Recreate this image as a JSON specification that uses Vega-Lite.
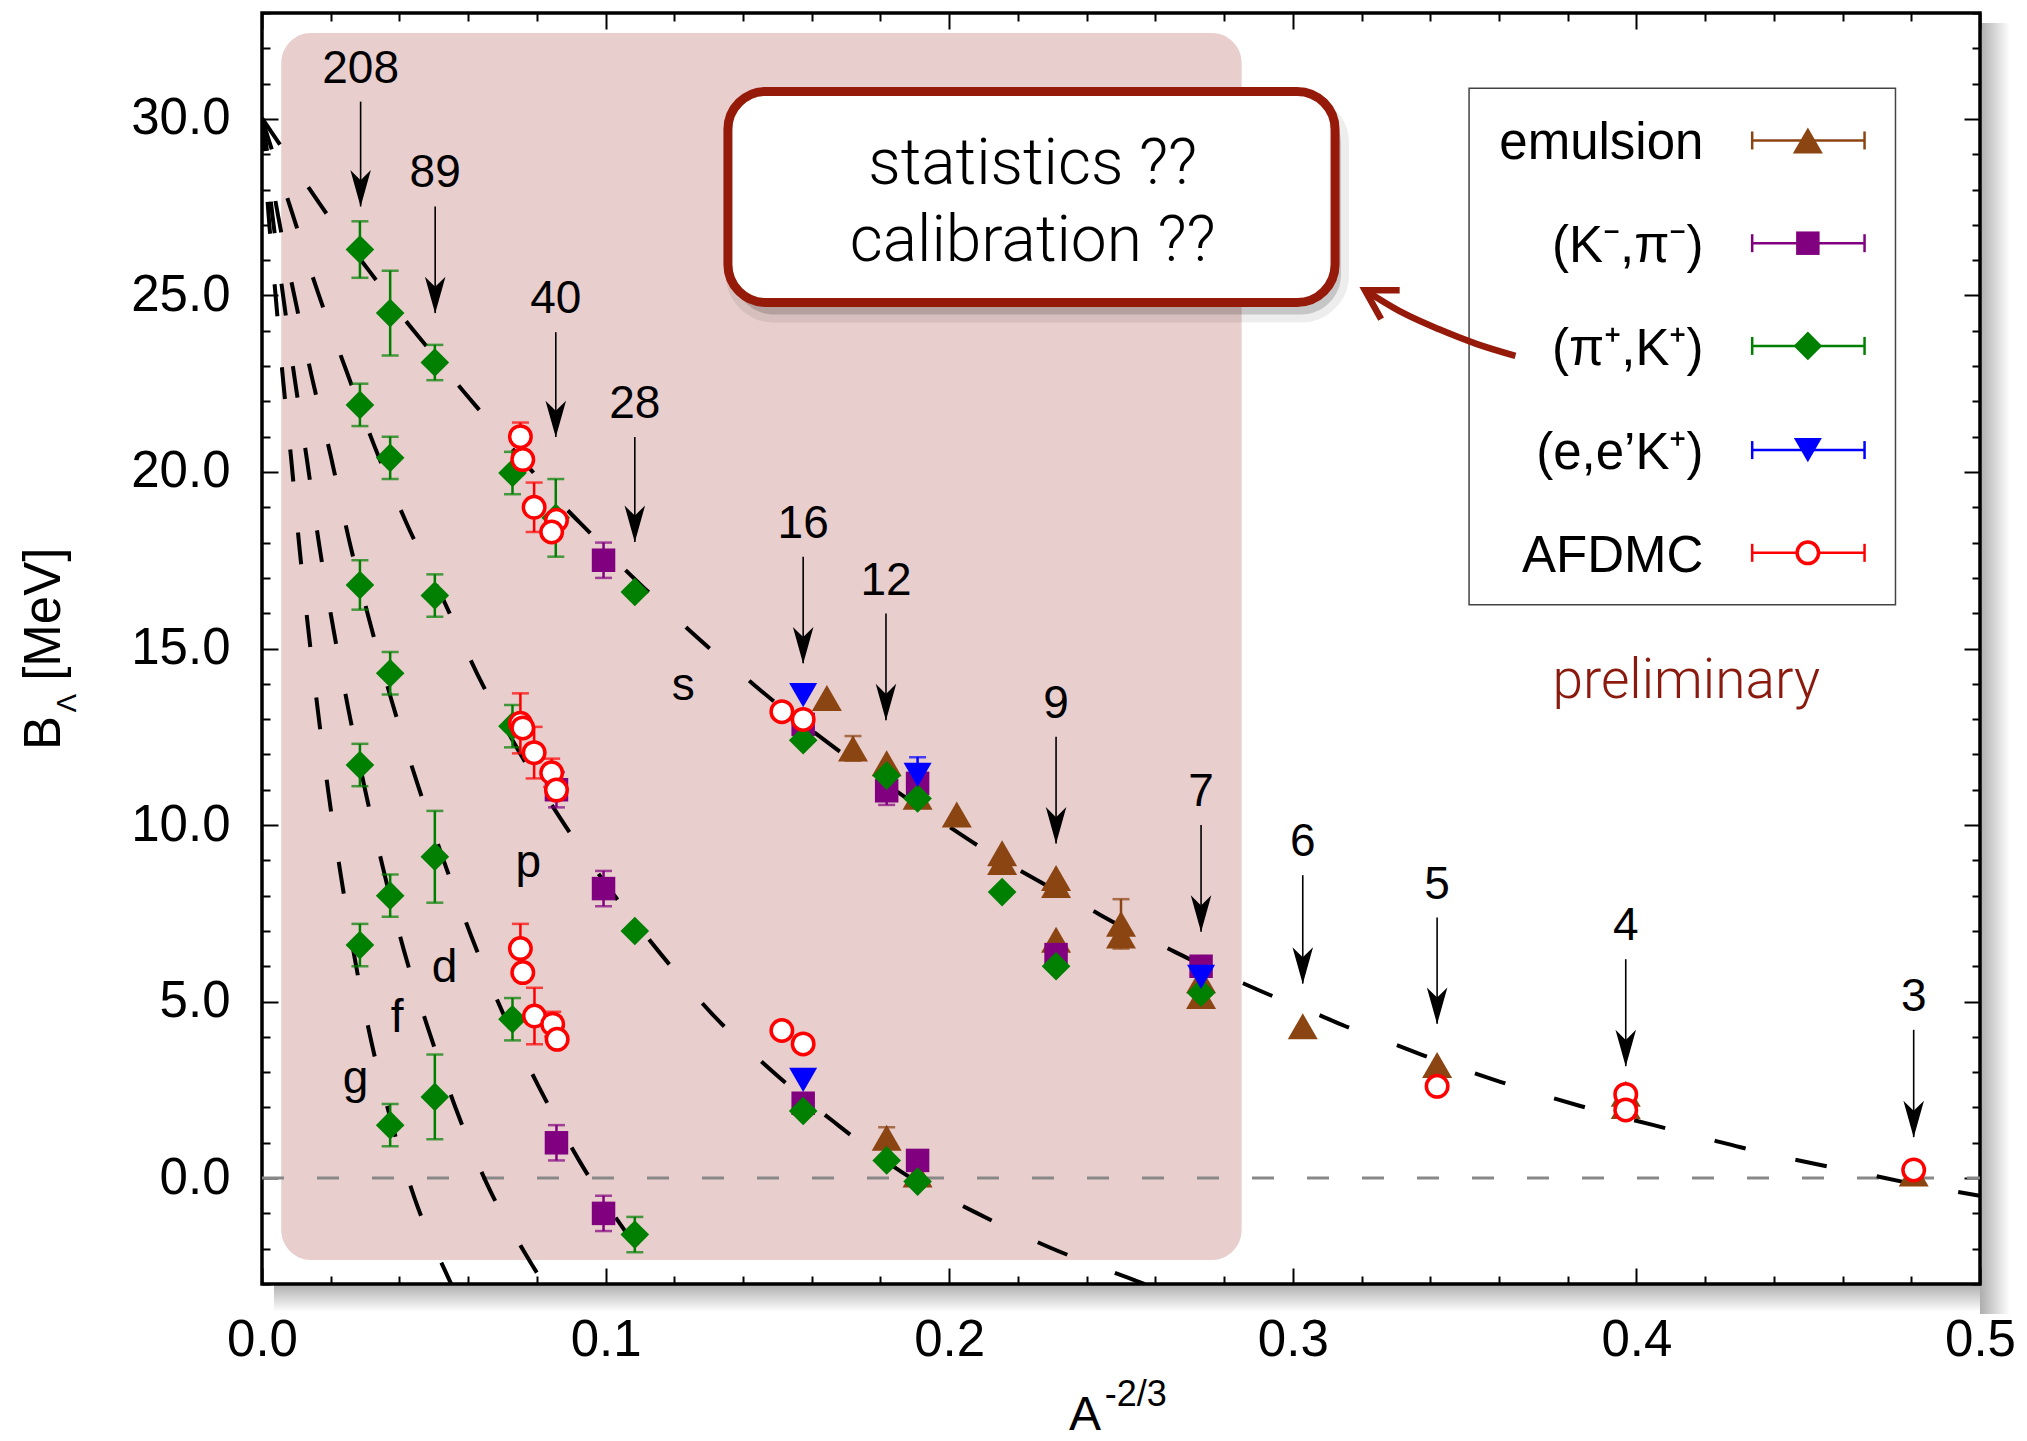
{
  "$schema": "https://vega.github.io/schema/vega-lite/v6.json",
  "width": 1718,
  "height": 1271,
  "autosize": {"type": "none"},
  "padding": {"left": 262, "top": 13, "right": 47, "bottom": 157},
  "background": "white",
  "config": {
    "view": {"stroke": "#000", "strokeWidth": 3.5, "fill": "white"},
    "text": {"font": "Liberation Sans"}
  },
  "resolve": {"axis": {"x": "independent", "y": "independent"}},
  "datasets": {
    "pts": [
      {"series": "emulsion", "x": 0.1644, "y": 13.6, "err": 0},
      {"series": "emulsion", "x": 0.172, "y": 12.17, "err": 0.35},
      {"series": "emulsion", "x": 0.1818, "y": 11.75, "err": 0},
      {"series": "emulsion", "x": 0.1818, "y": 1.14, "err": 0.3},
      {"series": "emulsion", "x": 0.1908, "y": 10.8, "err": 0},
      {"series": "emulsion", "x": 0.1908, "y": 0.1, "err": 0},
      {"series": "emulsion", "x": 0.2022, "y": 10.3, "err": 0},
      {"series": "emulsion", "x": 0.2154, "y": 9.2, "err": 0},
      {"series": "emulsion", "x": 0.2154, "y": 8.95, "err": 0},
      {"series": "emulsion", "x": 0.2311, "y": 8.5, "err": 0},
      {"series": "emulsion", "x": 0.2311, "y": 8.3, "err": 0},
      {"series": "emulsion", "x": 0.2311, "y": 6.75, "err": 0},
      {"series": "emulsion", "x": 0.25, "y": 7.2, "err": 0.7},
      {"series": "emulsion", "x": 0.25, "y": 6.87, "err": 0},
      {"series": "emulsion", "x": 0.2733, "y": 5.6, "err": 0},
      {"series": "emulsion", "x": 0.2733, "y": 5.16, "err": 0},
      {"series": "emulsion", "x": 0.3029, "y": 4.3, "err": 0},
      {"series": "emulsion", "x": 0.342, "y": 3.2, "err": 0},
      {"series": "emulsion", "x": 0.3969, "y": 2.39, "err": 0},
      {"series": "emulsion", "x": 0.3969, "y": 2.04, "err": 0},
      {"series": "emulsion", "x": 0.4807, "y": 0.13, "err": 0},
      {"series": "Kpi", "x": 0.0994, "y": 17.5, "err": 0.5},
      {"series": "Kpi", "x": 0.0994, "y": 8.2, "err": 0.5},
      {"series": "Kpi", "x": 0.0994, "y": -1.0, "err": 0.5},
      {"series": "Kpi", "x": 0.0857, "y": 11.0, "err": 0.5},
      {"series": "Kpi", "x": 0.0857, "y": 1.0, "err": 0.5},
      {"series": "Kpi", "x": 0.1575, "y": 12.85, "err": 0},
      {"series": "Kpi", "x": 0.1575, "y": 2.12, "err": 0},
      {"series": "Kpi", "x": 0.1818, "y": 10.97, "err": 0.4},
      {"series": "Kpi", "x": 0.1908, "y": 11.18, "err": 0},
      {"series": "Kpi", "x": 0.1908, "y": 0.5, "err": 0},
      {"series": "Kpi", "x": 0.2311, "y": 6.33, "err": 0},
      {"series": "Kpi", "x": 0.2733, "y": 6.0, "err": 0.2},
      {"series": "piK", "x": 0.0285, "y": 26.3, "err": 0.8},
      {"series": "piK", "x": 0.0285, "y": 21.9, "err": 0.6},
      {"series": "piK", "x": 0.0285, "y": 16.8, "err": 0.7},
      {"series": "piK", "x": 0.0285, "y": 11.7, "err": 0.6},
      {"series": "piK", "x": 0.0285, "y": 6.6, "err": 0.6},
      {"series": "piK", "x": 0.0373, "y": 24.5, "err": 1.2},
      {"series": "piK", "x": 0.0373, "y": 20.4, "err": 0.6},
      {"series": "piK", "x": 0.0373, "y": 14.3, "err": 0.6},
      {"series": "piK", "x": 0.0373, "y": 8.0, "err": 0.6},
      {"series": "piK", "x": 0.0373, "y": 1.5, "err": 0.6},
      {"series": "piK", "x": 0.0503, "y": 23.1, "err": 0.5},
      {"series": "piK", "x": 0.0503, "y": 16.5, "err": 0.6},
      {"series": "piK", "x": 0.0503, "y": 9.1, "err": 1.3},
      {"series": "piK", "x": 0.0503, "y": 2.3, "err": 1.2},
      {"series": "piK", "x": 0.0729, "y": 19.97, "err": 0.6},
      {"series": "piK", "x": 0.0729, "y": 12.8, "err": 0.6},
      {"series": "piK", "x": 0.0729, "y": 4.5, "err": 0.6},
      {"series": "piK", "x": 0.0855, "y": 18.7, "err": 1.1},
      {"series": "piK", "x": 0.1085, "y": 16.6, "err": 0},
      {"series": "piK", "x": 0.1085, "y": 7.0, "err": 0},
      {"series": "piK", "x": 0.1085, "y": -1.6, "err": 0.5},
      {"series": "piK", "x": 0.1575, "y": 12.4, "err": 0},
      {"series": "piK", "x": 0.1575, "y": 1.9, "err": 0},
      {"series": "piK", "x": 0.1818, "y": 11.4, "err": 0},
      {"series": "piK", "x": 0.1818, "y": 0.5, "err": 0},
      {"series": "piK", "x": 0.1908, "y": 10.75, "err": 0},
      {"series": "piK", "x": 0.1908, "y": -0.1, "err": 0},
      {"series": "piK", "x": 0.2154, "y": 8.1, "err": 0},
      {"series": "piK", "x": 0.2311, "y": 6.0, "err": 0},
      {"series": "piK", "x": 0.2733, "y": 5.25, "err": 0},
      {"series": "eeK", "x": 0.1575, "y": 13.68, "err": 0},
      {"series": "eeK", "x": 0.1575, "y": 2.78, "err": 0},
      {"series": "eeK", "x": 0.1908, "y": 11.42, "err": 0.5},
      {"series": "eeK", "x": 0.2733, "y": 5.7, "err": 0},
      {"series": "AFDMC", "x": 0.0752, "y": 21.0, "err": 0.4},
      {"series": "AFDMC", "x": 0.0759, "y": 20.35, "err": 0},
      {"series": "AFDMC", "x": 0.0792, "y": 19.0, "err": 0.7},
      {"series": "AFDMC", "x": 0.0857, "y": 18.63, "err": 0},
      {"series": "AFDMC", "x": 0.0843, "y": 18.3, "err": 0},
      {"series": "AFDMC", "x": 0.0752, "y": 12.88, "err": 0.85},
      {"series": "AFDMC", "x": 0.0759, "y": 12.75, "err": 0},
      {"series": "AFDMC", "x": 0.0792, "y": 12.05, "err": 0.73},
      {"series": "AFDMC", "x": 0.0843, "y": 11.48, "err": 0.4},
      {"series": "AFDMC", "x": 0.0857, "y": 10.99, "err": 0},
      {"series": "AFDMC", "x": 0.0752, "y": 6.5, "err": 0.7},
      {"series": "AFDMC", "x": 0.0759, "y": 5.82, "err": 0},
      {"series": "AFDMC", "x": 0.0793, "y": 4.59, "err": 0.8},
      {"series": "AFDMC", "x": 0.0846, "y": 4.36, "err": 0.35},
      {"series": "AFDMC", "x": 0.0859, "y": 3.93, "err": 0},
      {"series": "AFDMC", "x": 0.1513, "y": 13.21, "err": 0},
      {"series": "AFDMC", "x": 0.1575, "y": 12.99, "err": 0},
      {"series": "AFDMC", "x": 0.1513, "y": 4.18, "err": 0},
      {"series": "AFDMC", "x": 0.1575, "y": 3.8, "err": 0},
      {"series": "AFDMC", "x": 0.342, "y": 2.6, "err": 0},
      {"series": "AFDMC", "x": 0.3969, "y": 2.37, "err": 0},
      {"series": "AFDMC", "x": 0.3969, "y": 1.93, "err": 0},
      {"series": "AFDMC", "x": 0.4807, "y": 0.23, "err": 0}
    ],
    "curves": [
      {"shell": "s", "x": 0, "y": 30.02},
      {"shell": "s", "x": 0.0053, "y": 29.26},
      {"shell": "s", "x": 0.0136, "y": 28.05},
      {"shell": "s", "x": 0.0189, "y": 27.3},
      {"shell": "s", "x": 0.0296, "y": 25.9},
      {"shell": "s", "x": 0.0335, "y": 25.4},
      {"shell": "s", "x": 0.0417, "y": 24.3},
      {"shell": "s", "x": 0.048, "y": 23.55},
      {"shell": "s", "x": 0.0572, "y": 22.45},
      {"shell": "s", "x": 0.0633, "y": 21.75},
      {"shell": "s", "x": 0.077, "y": 20.2},
      {"shell": "s", "x": 0.0886, "y": 18.95},
      {"shell": "s", "x": 0.0957, "y": 18.25},
      {"shell": "s", "x": 0.1055, "y": 17.25},
      {"shell": "s", "x": 0.1119, "y": 16.65},
      {"shell": "s", "x": 0.1234, "y": 15.6},
      {"shell": "s", "x": 0.1303, "y": 15.0},
      {"shell": "s", "x": 0.1416, "y": 14.1},
      {"shell": "s", "x": 0.1484, "y": 13.55},
      {"shell": "s", "x": 0.1608, "y": 12.62},
      {"shell": "s", "x": 0.1679, "y": 12.1},
      {"shell": "s", "x": 0.184, "y": 11.0},
      {"shell": "s", "x": 0.1997, "y": 9.97},
      {"shell": "s", "x": 0.2075, "y": 9.47},
      {"shell": "s", "x": 0.2199, "y": 8.75},
      {"shell": "s", "x": 0.2277, "y": 8.32},
      {"shell": "s", "x": 0.2413, "y": 7.6},
      {"shell": "s", "x": 0.2484, "y": 7.22},
      {"shell": "s", "x": 0.2627, "y": 6.55},
      {"shell": "s", "x": 0.27, "y": 6.2},
      {"shell": "s", "x": 0.2848, "y": 5.55},
      {"shell": "s", "x": 0.293, "y": 5.2},
      {"shell": "s", "x": 0.3069, "y": 4.65},
      {"shell": "s", "x": 0.3153, "y": 4.3},
      {"shell": "s", "x": 0.3293, "y": 3.8},
      {"shell": "s", "x": 0.3374, "y": 3.5},
      {"shell": "s", "x": 0.3519, "y": 3.0},
      {"shell": "s", "x": 0.3606, "y": 2.72},
      {"shell": "s", "x": 0.3753, "y": 2.28},
      {"shell": "s", "x": 0.3834, "y": 2.05},
      {"shell": "s", "x": 0.3985, "y": 1.66},
      {"shell": "s", "x": 0.407, "y": 1.45},
      {"shell": "s", "x": 0.4212, "y": 1.1},
      {"shell": "s", "x": 0.43, "y": 0.88},
      {"shell": "s", "x": 0.4449, "y": 0.55},
      {"shell": "s", "x": 0.4536, "y": 0.37},
      {"shell": "s", "x": 0.4685, "y": 0.08},
      {"shell": "s", "x": 0.4773, "y": -0.1},
      {"shell": "s", "x": 0.4922, "y": -0.37},
      {"shell": "s", "x": 0.5, "y": -0.5},
      {"shell": "p", "x": 0, "y": 30.0},
      {"shell": "p", "x": 0.0088, "y": 27.33},
      {"shell": "p", "x": 0.0163, "y": 25.08},
      {"shell": "p", "x": 0.0245, "y": 22.88},
      {"shell": "p", "x": 0.0327, "y": 20.74},
      {"shell": "p", "x": 0.0422, "y": 18.52},
      {"shell": "p", "x": 0.0527, "y": 16.4},
      {"shell": "p", "x": 0.0627, "y": 14.27},
      {"shell": "p", "x": 0.0735, "y": 12.3},
      {"shell": "p", "x": 0.0859, "y": 10.33},
      {"shell": "p", "x": 0.1003, "y": 8.3},
      {"shell": "p", "x": 0.1152, "y": 6.45},
      {"shell": "p", "x": 0.1309, "y": 4.66},
      {"shell": "p", "x": 0.1481, "y": 3.06},
      {"shell": "p", "x": 0.1666, "y": 1.58},
      {"shell": "p", "x": 0.1862, "y": 0.17},
      {"shell": "p", "x": 0.2072, "y": -0.95},
      {"shell": "p", "x": 0.2291, "y": -1.96},
      {"shell": "p", "x": 0.2514, "y": -2.8},
      {"shell": "p", "x": 0.265, "y": -3.3},
      {"shell": "d", "x": 0, "y": 30.0},
      {"shell": "d", "x": 0.0046, "y": 27.3},
      {"shell": "d", "x": 0.0095, "y": 24.95},
      {"shell": "d", "x": 0.0146, "y": 22.65},
      {"shell": "d", "x": 0.0199, "y": 20.5},
      {"shell": "d", "x": 0.0254, "y": 18.05},
      {"shell": "d", "x": 0.0313, "y": 15.78},
      {"shell": "d", "x": 0.0378, "y": 13.5},
      {"shell": "d", "x": 0.0448, "y": 11.3},
      {"shell": "d", "x": 0.0526, "y": 9.07},
      {"shell": "d", "x": 0.0608, "y": 6.88},
      {"shell": "d", "x": 0.07, "y": 4.7},
      {"shell": "d", "x": 0.0805, "y": 2.6},
      {"shell": "d", "x": 0.0921, "y": 0.53},
      {"shell": "d", "x": 0.1035, "y": -1.2},
      {"shell": "d", "x": 0.1168, "y": -2.94},
      {"shell": "d", "x": 0.122, "y": -3.6},
      {"shell": "f", "x": 0, "y": 30.0},
      {"shell": "f", "x": 0.003, "y": 27.3},
      {"shell": "f", "x": 0.0062, "y": 24.95},
      {"shell": "f", "x": 0.0095, "y": 22.65},
      {"shell": "f", "x": 0.013, "y": 20.4},
      {"shell": "f", "x": 0.0167, "y": 17.9},
      {"shell": "f", "x": 0.0207, "y": 15.6},
      {"shell": "f", "x": 0.0251, "y": 13.3},
      {"shell": "f", "x": 0.03, "y": 11.0},
      {"shell": "f", "x": 0.0353, "y": 8.75},
      {"shell": "f", "x": 0.0413, "y": 6.45},
      {"shell": "f", "x": 0.0484, "y": 4.22},
      {"shell": "f", "x": 0.0563, "y": 2.0},
      {"shell": "f", "x": 0.0655, "y": -0.17},
      {"shell": "f", "x": 0.077, "y": -2.2},
      {"shell": "f", "x": 0.086, "y": -3.6},
      {"shell": "g", "x": 0, "y": 30.0},
      {"shell": "g", "x": 0.0019, "y": 27.3},
      {"shell": "g", "x": 0.004, "y": 24.95},
      {"shell": "g", "x": 0.0062, "y": 22.54},
      {"shell": "g", "x": 0.0085, "y": 20.36},
      {"shell": "g", "x": 0.0109, "y": 17.86},
      {"shell": "g", "x": 0.0135, "y": 15.52},
      {"shell": "g", "x": 0.0163, "y": 13.21},
      {"shell": "g", "x": 0.0194, "y": 10.87},
      {"shell": "g", "x": 0.0229, "y": 8.6},
      {"shell": "g", "x": 0.0269, "y": 6.27},
      {"shell": "g", "x": 0.0316, "y": 3.96},
      {"shell": "g", "x": 0.0373, "y": 1.72},
      {"shell": "g", "x": 0.0444, "y": -0.57},
      {"shell": "g", "x": 0.0534, "y": -2.65},
      {"shell": "g", "x": 0.058, "y": -3.6}
    ],
    "arrows": [
      {"lab": "208", "x": 0.0287, "top": 30.49, "tip": 27.52},
      {"lab": "89", "x": 0.0504, "top": 27.52, "tip": 24.5},
      {"lab": "40", "x": 0.0855, "top": 23.96, "tip": 20.99},
      {"lab": "28", "x": 0.1085, "top": 20.99, "tip": 18.02},
      {"lab": "16", "x": 0.1575, "top": 17.6, "tip": 14.58},
      {"lab": "12", "x": 0.1816, "top": 15.99, "tip": 12.97},
      {"lab": "9", "x": 0.2311, "top": 12.5, "tip": 9.48},
      {"lab": "7", "x": 0.2733, "top": 10.0, "tip": 6.98},
      {"lab": "6", "x": 0.3029, "top": 8.58, "tip": 5.51},
      {"lab": "5", "x": 0.342, "top": 7.38, "tip": 4.37},
      {"lab": "4", "x": 0.3969, "top": 6.2, "tip": 3.17},
      {"lab": "3", "x": 0.4807, "top": 4.2, "tip": 1.16}
    ],
    "shells": [
      {"lab": "s", "x": 0.1226, "y": 13.54},
      {"lab": "p", "x": 0.0775, "y": 8.54},
      {"lab": "d", "x": 0.0531, "y": 5.56},
      {"lab": "f", "x": 0.0393, "y": 4.15},
      {"lab": "g", "x": 0.0272, "y": 2.4}
    ],
    "legend": [
      {"series": "emulsion", "label": "emulsion", "ly": 29.39},
      {"series": "Kpi", "label": "(K⁻,π⁻)", "ly": 26.48},
      {"series": "piK", "label": "(π⁺,K⁺)", "ly": 23.57},
      {"series": "eeK", "label": "(e,e’K⁺)", "ly": 20.62},
      {"series": "AFDMC", "label": "AFDMC", "ly": 17.71}
    ],
    "pointer": [
      {"x": 0.3648, "y": 23.29},
      {"x": 0.3534, "y": 23.63},
      {"x": 0.3426, "y": 24.04},
      {"x": 0.3318, "y": 24.52},
      {"x": 0.321, "y": 25.15}
    ],
    "pointerHead": [
      {"k": 1, "x": 0.3311, "y": 25.15},
      {"k": 2, "x": 0.321, "y": 25.15},
      {"k": 3, "x": 0.3257, "y": 24.33}
    ]
  },
  "layer": [
    {
      "data": {"values": [{}]},
      "mark": {
        "type": "rect", "x2Offset": 30, "yOffset": 10, "y2Offset": 30,
        "fill": {"gradient": "linear", "x1": 0, "y1": 0, "x2": 1, "y2": 0,
          "stops": [{"offset": 0, "color": "rgba(0,0,0,0.32)"}, {"offset": 1, "color": "rgba(0,0,0,0)"}]}
      },
      "encoding": {
        "x": {"datum": 0.5, "type": "quantitative", "axis": null},
        "x2": {"datum": 0.5},
        "y": {"datum": 33, "type": "quantitative", "axis": null},
        "y2": {"datum": -3}
      }
    },
    {
      "data": {"values": [{}]},
      "mark": {
        "type": "rect", "xOffset": 12, "y2Offset": 28,
        "fill": {"gradient": "linear", "x1": 0, "y1": 0, "x2": 0, "y2": 1,
          "stops": [{"offset": 0, "color": "rgba(0,0,0,0.32)"}, {"offset": 1, "color": "rgba(0,0,0,0)"}]}
      },
      "encoding": {
        "x": {"datum": 0, "type": "quantitative", "axis": null},
        "x2": {"datum": 0.5},
        "y": {"datum": -3, "type": "quantitative", "axis": null},
        "y2": {"datum": -3}
      }
    },
    {
      "data": {"values": [{}]},
      "mark": {"type": "rect", "fill": "#E8CECC", "cornerRadius": 30},
      "encoding": {
        "x": {"datum": 0.0056, "type": "quantitative", "axis": null},
        "x2": {"datum": 0.2851},
        "y": {"datum": 32.43, "type": "quantitative", "axis": null},
        "y2": {"datum": -2.32}
      }
    },
    {
      "data": {"values": [{}]},
      "mark": {"type": "rule", "color": "#888888", "strokeWidth": 3, "strokeDash": [22, 33]},
      "encoding": {
        "x": {"datum": 0, "type": "quantitative", "axis": null},
        "x2": {"datum": 0.5},
        "y": {"datum": 0, "type": "quantitative", "axis": null}
      }
    },
    {
      "data": {"name": "curves"},
      "mark": {"type": "line", "color": "#000", "strokeWidth": 4, "strokeDash": [32, 51], "clip": true, "interpolate": "monotone"},
      "encoding": {
        "x": {
          "field": "x", "type": "quantitative",
          "scale": {"domain": [0, 0.5], "nice": false, "zero": false},
          "axis": {
            "orient": "bottom",
            "values": [0, 0.02, 0.04, 0.06, 0.08, 0.1, 0.12, 0.14, 0.16, 0.18, 0.2, 0.22, 0.24, 0.26, 0.28, 0.3, 0.32, 0.34, 0.36, 0.38, 0.4, 0.42, 0.44, 0.46, 0.48, 0.5],
            "format": ".1f",
            "labelExpr": "abs(datum.value*10-round(datum.value*10)) < 0.001 ? datum.label : ''",
            "tickSize": {"condition": {"test": "abs(datum.value*10-round(datum.value*10)) < 0.001", "value": -16}, "value": -8},
            "tickWidth": 2, "tickColor": "#000", "domain": false, "grid": false,
            "labelFont": "Liberation Sans", "labelFontSize": 51, "labelColor": "#000",
            "labelPadding": 47, "labelFlush": false, "labelOverlap": false, "title": null
          }
        },
        "y": {
          "field": "y", "type": "quantitative",
          "scale": {"domain": [-3, 33], "nice": false, "zero": false},
          "axis": {
            "orient": "left",
            "values": [-3, -2, -1, 0, 1, 2, 3, 4, 5, 6, 7, 8, 9, 10, 11, 12, 13, 14, 15, 16, 17, 18, 19, 20, 21, 22, 23, 24, 25, 26, 27, 28, 29, 30, 31, 32, 33],
            "format": ".1f",
            "labelExpr": "abs(datum.value/5-round(datum.value/5)) < 0.001 ? datum.label : ''",
            "tickSize": {"condition": {"test": "abs(datum.value/5-round(datum.value/5)) < 0.001", "value": -16}, "value": -8},
            "tickWidth": 2, "tickColor": "#000", "domain": false, "grid": false,
            "labelFont": "Liberation Sans", "labelFontSize": 51, "labelColor": "#000",
            "labelPadding": 48, "labelFlush": false, "labelOverlap": false, "title": null
          }
        },
        "detail": {"field": "shell", "type": "nominal"}
      }
    },
    {
      "data": {"name": "arrows"},
      "mark": {"type": "rule", "color": "#000", "strokeWidth": 1.6},
      "encoding": {
        "x": {"field": "x", "type": "quantitative", "axis": null},
        "y": {"field": "top", "type": "quantitative", "axis": null},
        "y2": {"field": "tip"}
      }
    },
    {
      "data": {"name": "arrows"},
      "mark": {"type": "point", "shape": "M0,1L-0.56,-1L0,-0.45L0.56,-1Z", "size": 1347, "filled": true, "color": "#000", "opacity": 1, "yOffset": -18},
      "encoding": {
        "x": {"field": "x", "type": "quantitative", "axis": null},
        "y": {"field": "tip", "type": "quantitative", "axis": null}
      }
    },
    {
      "data": {"name": "arrows"},
      "mark": {"type": "text", "font": "Liberation Sans", "fontSize": 46, "color": "#000", "align": "center", "baseline": "alphabetic", "dy": -19},
      "encoding": {
        "x": {"field": "x", "type": "quantitative", "axis": null},
        "y": {"field": "top", "type": "quantitative", "axis": null},
        "text": {"field": "lab"}
      }
    },
    {
      "data": {"name": "shells"},
      "mark": {"type": "text", "font": "Liberation Sans", "fontSize": 46, "color": "#000", "align": "center", "baseline": "alphabetic"},
      "encoding": {
        "x": {"field": "x", "type": "quantitative", "axis": null},
        "y": {"field": "y", "type": "quantitative", "axis": null},
        "text": {"field": "lab"}
      }
    },
    {
      "data": {"name": "pts"},
      "transform": [{"filter": "datum.err > 0"}],
      "mark": {"type": "errorbar", "thickness": 2.5, "ticks": {"size": 17}},
      "encoding": {
        "x": {"field": "x", "type": "quantitative", "axis": null},
        "y": {"field": "y", "type": "quantitative", "axis": null},
        "yError": {"field": "err"},
        "color": {
          "field": "series", "type": "nominal", "legend": null,
          "scale": {"domain": ["emulsion", "Kpi", "piK", "eeK", "AFDMC"], "range": ["#8B4513", "#800080", "#008000", "#0000FF", "#FF0000"]}
        }
      }
    },
    {
      "data": {"name": "pts"},
      "transform": [{"filter": "datum.series === 'emulsion'"}],
      "mark": {"type": "point", "shape": "triangle-up", "size": 900, "filled": true, "color": "#8B4513", "opacity": 1, "strokeWidth": 0},
      "encoding": {
        "x": {"field": "x", "type": "quantitative", "axis": null},
        "y": {"field": "y", "type": "quantitative", "axis": null}
      }
    },
    {
      "data": {"name": "pts"},
      "transform": [{"filter": "datum.series === 'Kpi'"}],
      "mark": {"type": "point", "shape": "square", "size": 552, "filled": true, "color": "#800080", "opacity": 1, "strokeWidth": 0},
      "encoding": {
        "x": {"field": "x", "type": "quantitative", "axis": null},
        "y": {"field": "y", "type": "quantitative", "axis": null}
      }
    },
    {
      "data": {"name": "pts"},
      "transform": [{"filter": "datum.series === 'piK'"}],
      "mark": {"type": "point", "shape": "diamond", "size": 820, "filled": true, "color": "#008000", "opacity": 1, "strokeWidth": 0},
      "encoding": {
        "x": {"field": "x", "type": "quantitative", "axis": null},
        "y": {"field": "y", "type": "quantitative", "axis": null}
      }
    },
    {
      "data": {"name": "pts"},
      "transform": [{"filter": "datum.series === 'eeK'"}],
      "mark": {"type": "point", "shape": "triangle-down", "size": 784, "filled": true, "color": "#0000FF", "opacity": 1, "strokeWidth": 0},
      "encoding": {
        "x": {"field": "x", "type": "quantitative", "axis": null},
        "y": {"field": "y", "type": "quantitative", "axis": null}
      }
    },
    {
      "data": {"name": "pts"},
      "transform": [{"filter": "datum.series === 'AFDMC'"}],
      "mark": {"type": "point", "shape": "circle", "filled": true, "fill": "white", "stroke": "#FF0000", "strokeWidth": 3.5, "size": 462, "opacity": 1},
      "encoding": {
        "x": {
          "field": "x", "type": "quantitative",
          "axis": {
            "orient": "top",
            "values": [0, 0.02, 0.04, 0.06, 0.08, 0.1, 0.12, 0.14, 0.16, 0.18, 0.2, 0.22, 0.24, 0.26, 0.28, 0.3, 0.32, 0.34, 0.36, 0.38, 0.4, 0.42, 0.44, 0.46, 0.48, 0.5],
            "labels": false,
            "tickSize": {"condition": {"test": "abs(datum.value*10-round(datum.value*10)) < 0.001", "value": -16}, "value": -8},
            "tickWidth": 2, "tickColor": "#000", "domain": false, "grid": false, "title": null
          }
        },
        "y": {
          "field": "y", "type": "quantitative",
          "axis": {
            "orient": "right",
            "values": [-3, -2, -1, 0, 1, 2, 3, 4, 5, 6, 7, 8, 9, 10, 11, 12, 13, 14, 15, 16, 17, 18, 19, 20, 21, 22, 23, 24, 25, 26, 27, 28, 29, 30, 31, 32, 33],
            "labels": false,
            "tickSize": {"condition": {"test": "abs(datum.value/5-round(datum.value/5)) < 0.001", "value": -16}, "value": -8},
            "tickWidth": 2, "tickColor": "#000", "domain": false, "grid": false, "title": null
          }
        }
      }
    },
    {
      "data": {"values": [{}]},
      "mark": {"type": "rect", "fill": "white", "stroke": "#444444", "strokeWidth": 1.5},
      "encoding": {
        "x": {"datum": 0.3513, "type": "quantitative", "axis": null},
        "x2": {"datum": 0.4754},
        "y": {"datum": 30.87, "type": "quantitative", "axis": null},
        "y2": {"datum": 16.24}
      }
    },
    {
      "data": {"name": "legend"},
      "mark": {"type": "rule", "strokeWidth": 2.5},
      "encoding": {
        "x": {"datum": 0.4337, "type": "quantitative", "axis": null},
        "x2": {"datum": 0.4664},
        "y": {"field": "ly", "type": "quantitative", "axis": null},
        "color": {"field": "series", "type": "nominal", "legend": null}
      }
    },
    {
      "data": {"name": "legend"},
      "mark": {"type": "tick", "orient": "vertical", "thickness": 2.5, "size": 18, "opacity": 1},
      "encoding": {
        "x": {"datum": 0.4337, "type": "quantitative", "axis": null},
        "y": {"field": "ly", "type": "quantitative", "axis": null},
        "color": {"field": "series", "type": "nominal", "legend": null}
      }
    },
    {
      "data": {"name": "legend"},
      "mark": {"type": "tick", "orient": "vertical", "thickness": 2.5, "size": 18, "opacity": 1},
      "encoding": {
        "x": {"datum": 0.4664, "type": "quantitative", "axis": null},
        "y": {"field": "ly", "type": "quantitative", "axis": null},
        "color": {"field": "series", "type": "nominal", "legend": null}
      }
    },
    {
      "data": {"name": "legend"},
      "transform": [{"filter": "datum.series === 'emulsion'"}],
      "mark": {"type": "point", "shape": "triangle-up", "size": 900, "filled": true, "color": "#8B4513", "opacity": 1, "strokeWidth": 0},
      "encoding": {
        "x": {"datum": 0.4499, "type": "quantitative", "axis": null},
        "y": {"field": "ly", "type": "quantitative", "axis": null}
      }
    },
    {
      "data": {"name": "legend"},
      "transform": [{"filter": "datum.series === 'Kpi'"}],
      "mark": {"type": "point", "shape": "square", "size": 552, "filled": true, "color": "#800080", "opacity": 1, "strokeWidth": 0},
      "encoding": {
        "x": {"datum": 0.4499, "type": "quantitative", "axis": null},
        "y": {"field": "ly", "type": "quantitative", "axis": null}
      }
    },
    {
      "data": {"name": "legend"},
      "transform": [{"filter": "datum.series === 'piK'"}],
      "mark": {"type": "point", "shape": "diamond", "size": 820, "filled": true, "color": "#008000", "opacity": 1, "strokeWidth": 0},
      "encoding": {
        "x": {"datum": 0.4499, "type": "quantitative", "axis": null},
        "y": {"field": "ly", "type": "quantitative", "axis": null}
      }
    },
    {
      "data": {"name": "legend"},
      "transform": [{"filter": "datum.series === 'eeK'"}],
      "mark": {"type": "point", "shape": "triangle-down", "size": 784, "filled": true, "color": "#0000FF", "opacity": 1, "strokeWidth": 0},
      "encoding": {
        "x": {"datum": 0.4499, "type": "quantitative", "axis": null},
        "y": {"field": "ly", "type": "quantitative", "axis": null}
      }
    },
    {
      "data": {"name": "legend"},
      "transform": [{"filter": "datum.series === 'AFDMC'"}],
      "mark": {"type": "point", "shape": "circle", "filled": true, "fill": "white", "stroke": "#FF0000", "strokeWidth": 3.5, "size": 462, "opacity": 1},
      "encoding": {
        "x": {"datum": 0.4499, "type": "quantitative", "axis": null},
        "y": {"field": "ly", "type": "quantitative", "axis": null}
      }
    },
    {
      "data": {"name": "legend"},
      "mark": {"type": "text", "font": "Liberation Sans", "fontSize": 51, "color": "#000", "align": "right", "baseline": "alphabetic", "dy": 19},
      "encoding": {
        "x": {"datum": 0.4195, "type": "quantitative", "axis": null},
        "y": {"field": "ly", "type": "quantitative", "axis": null},
        "text": {"field": "label"}
      }
    },
    {
      "data": {"name": "pointer"},
      "mark": {"type": "line", "color": "#951A0A", "strokeWidth": 6.5, "interpolate": "monotone", "strokeCap": "butt"},
      "encoding": {
        "x": {"field": "x", "type": "quantitative", "axis": null},
        "y": {"field": "y", "type": "quantitative", "axis": null}
      }
    },
    {
      "data": {"name": "pointerHead"},
      "mark": {"type": "line", "color": "#951A0A", "strokeWidth": 6.5, "strokeJoin": "miter", "strokeCap": "butt"},
      "encoding": {
        "x": {"field": "x", "type": "quantitative", "axis": null},
        "y": {"field": "y", "type": "quantitative", "axis": null},
        "order": {"field": "k", "type": "quantitative"}
      }
    },
    {
      "data": {"values": [{}]},
      "mark": {"type": "rect", "fill": "#000", "fillOpacity": 0.16, "stroke": "#000", "strokeOpacity": 0.07, "strokeWidth": 16, "cornerRadius": 40, "xOffset": 6, "x2Offset": 6, "yOffset": 12, "y2Offset": 12},
      "encoding": {
        "x": {"datum": 0.1356, "type": "quantitative", "axis": null},
        "x2": {"datum": 0.3123},
        "y": {"datum": 30.78, "type": "quantitative", "axis": null},
        "y2": {"datum": 24.8}
      }
    },
    {
      "data": {"values": [{}]},
      "mark": {"type": "rect", "fill": "white", "stroke": "#951A0A", "strokeWidth": 9, "cornerRadius": 38},
      "encoding": {
        "x": {"datum": 0.1356, "type": "quantitative", "axis": null},
        "x2": {"datum": 0.3123},
        "y": {"datum": 30.78, "type": "quantitative", "axis": null},
        "y2": {"datum": 24.8}
      }
    },
    {
      "data": {"values": [{}]},
      "mark": {"type": "text", "font": "Roboto", "fontWeight": 300, "fontSize": 64, "color": "#000", "align": "center", "baseline": "alphabetic", "lineHeight": 77},
      "encoding": {
        "x": {"datum": 0.2243, "type": "quantitative", "axis": null},
        "y": {"datum": 28.17, "type": "quantitative", "axis": null},
        "text": {"value": ["statistics ??", "calibration ??"]}
      }
    },
    {
      "data": {"values": [{}]},
      "mark": {"type": "text", "font": "Roboto", "fontWeight": 300, "fontSize": 55, "color": "#8B1A0E", "align": "center", "baseline": "alphabetic"},
      "encoding": {
        "x": {"datum": 0.4145, "type": "quantitative", "axis": null},
        "y": {"datum": 13.6, "type": "quantitative", "axis": null},
        "text": {"value": "preliminary"}
      }
    },
    {
      "data": {"values": [{}]},
      "mark": {"type": "text", "font": "Liberation Sans", "fontSize": 48, "color": "#000", "align": "center", "baseline": "alphabetic"},
      "encoding": {
        "x": {"datum": 0.2395, "type": "quantitative", "axis": null},
        "y": {"datum": -7.14, "type": "quantitative", "axis": null},
        "text": {"value": "A"}
      }
    },
    {
      "data": {"values": [{}]},
      "mark": {"type": "text", "font": "Liberation Sans", "fontSize": 36, "color": "#000", "align": "left", "baseline": "alphabetic"},
      "encoding": {
        "x": {"datum": 0.2453, "type": "quantitative", "axis": null},
        "y": {"datum": -6.45, "type": "quantitative", "axis": null},
        "text": {"value": "-2/3"}
      }
    },
    {
      "data": {"values": [{}]},
      "mark": {"type": "text", "font": "Liberation Sans", "fontSize": 51, "color": "#000", "align": "center", "baseline": "alphabetic", "angle": 270},
      "encoding": {
        "x": {"datum": -0.0588, "type": "quantitative", "axis": null},
        "y": {"datum": 12.61, "type": "quantitative", "axis": null},
        "text": {"value": "B"}
      }
    },
    {
      "data": {"values": [{}]},
      "mark": {"type": "text", "font": "Liberation Sans", "fontSize": 28, "color": "#000", "align": "center", "baseline": "alphabetic", "angle": 270},
      "encoding": {
        "x": {"datum": -0.0541, "type": "quantitative", "axis": null},
        "y": {"datum": 13.45, "type": "quantitative", "axis": null},
        "text": {"value": "Λ"}
      }
    },
    {
      "data": {"values": [{}]},
      "mark": {"type": "text", "font": "Liberation Sans", "fontSize": 51, "color": "#000", "align": "center", "baseline": "alphabetic", "angle": 270},
      "encoding": {
        "x": {"datum": -0.0588, "type": "quantitative", "axis": null},
        "y": {"datum": 15.97, "type": "quantitative", "axis": null},
        "text": {"value": "[MeV]"}
      }
    }
  ]
}
